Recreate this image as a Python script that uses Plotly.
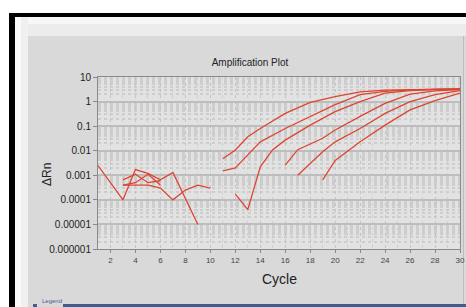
import plotly.graph_objects as go

cycles = list(range(1, 31))

# Early noisy traces (cycles 1-10)
noise_a = {1: 0.0025, 3: 0.0001, 4: 0.0017, 5: 0.0012, 6: 0.00065, 7: 0.0013, 9: 0.00001}
noise_b = {3: 0.00065, 4: 0.0011, 5: 0.0005, 6: 0.0006}
noise_c = {3: 0.0004, 5: 0.0004, 6: 0.0003, 7: 0.0001, 8: 0.00025, 9: 0.0004, 10: 0.0003}
noise_d = {3: 0.0004, 4: 0.0005, 5: 0.0011, 6: 0.0004}

# Amplification curves
amp_1 = {11: 0.0047, 12: 0.0107, 13: 0.037, 14: 0.08, 16: 0.33, 18: 0.93, 20: 1.6, 22: 2.5, 24: 2.9, 26: 3.1, 28: 3.2, 30: 3.3}
amp_2 = {11: 0.0015, 12: 0.002, 13: 0.0068, 14: 0.023, 16: 0.08, 18: 0.25, 20: 0.75, 22: 1.9, 24: 2.6, 26: 3.0, 28: 3.2, 30: 3.3}
amp_3 = {12: 0.00017, 13: 0.00004, 14: 0.0022, 15: 0.011, 16: 0.027, 18: 0.11, 20: 0.39, 22: 1.0, 24: 2.2, 26: 2.8, 28: 3.1, 30: 3.2}
amp_4 = {16: 0.0026, 17: 0.011, 19: 0.032, 20: 0.07, 22: 0.25, 24: 0.85, 26: 2.0, 28: 2.7, 30: 3.1}
amp_5 = {17: 0.001, 18: 0.003, 19: 0.009, 20: 0.023, 22: 0.08, 24: 0.33, 26: 1.0, 28: 1.9, 30: 2.8}
amp_6 = {19: 0.00065, 20: 0.004, 22: 0.023, 24: 0.11, 26: 0.46, 28: 1.1, 30: 2.2}

series = [noise_a, noise_b, noise_c, noise_d, amp_1, amp_2, amp_3, amp_4, amp_5, amp_6]

y_tickvals = [10, 1, 0.1, 0.01, 0.001, 0.0001, 0.00001, 0.000001]
y_ticktext = ["10", "1", "0.1", "0.01", "0.001", "0.0001", "0.00001", "0.000001"]
x_tickvals = list(range(2, 31, 2))

W, H = 466, 307
L, R, T, B = 98, 6, 77, 58
pw, ph = W - L - R, H - T - B

def px(x):
    return (x - L) / pw

def py(y):
    return (H - B - y) / ph

fig = go.Figure()
for s in series:
    xs = sorted(s.keys())
    fig.add_trace(go.Scatter(x=xs, y=[s[k] for k in xs], mode="lines",
                             line=dict(color="#dc4530", width=1.3),
                             showlegend=False, hoverinfo="skip"))

font = "Liberation Sans Narrow, Liberation Sans, Arial, sans-serif"

shapes = []
def rect(x0, y0, x1, y1, color):
    shapes.append(dict(type="rect", xref="paper", yref="paper",
                       x0=px(x0), x1=px(x1), y0=py(y1), y1=py(y0),
                       fillcolor=color, line=dict(width=0), layer="below"))

# outer white
rect(0, 0, W, 13, "#ffffff")
rect(0, 0, 9, H, "#ffffff")
# black frame
rect(9, 13, W, 17, "#000000")
rect(9, 13, 15, H, "#000000")
# light inner frame
rect(15, 17, W, 24, "#f7f7f7")
rect(15, 24, W, 36, "#ececec")
rect(15, 17, 28, H, "#f0f0f0")
rect(15, 17, 21, H, "#fafafa")
# right edge line
rect(463, 36, 464, H, "#bdbdbd")
# legend bar
rect(63, 304, W, 307, "#3f5f8f")
rect(33, 304, 37, 307, "#3f5f8f")

fig.update_layout(
    width=W, height=H,
    margin=dict(l=L, r=R, t=T, b=B, pad=0, autoexpand=False),
    paper_bgcolor="#d9d9d9",
    plot_bgcolor="#e2e2e2",
    shapes=shapes,
    title=dict(text="Amplification Plot", x=250 / W, xanchor="center",
               y=1 - 62 / H, yanchor="middle",
               font=dict(family=font, size=10, color="#222222")),
    xaxis=dict(range=[1, 30], tickvals=x_tickvals, ticks="outside", ticklen=3,
               automargin=False,
               tickcolor="#888888", tickfont=dict(family=font, size=8, color="#444444"),
               showgrid=True, gridcolor="#c4c4c4", griddash="dot", gridwidth=1,
               minor=dict(dtick=1, showgrid=True, gridcolor="#cfcfcf", griddash="dot"),
               showline=True, linecolor="#8a8a8a", mirror=True, zeroline=False),
    yaxis=dict(type="log", range=[-6, 1], tickvals=y_tickvals, ticktext=y_ticktext,
               automargin=False,
               ticks="outside", ticklen=4, tickcolor="#888888",
               tickfont=dict(family=font, size=10, color="#222222"),
               showgrid=True, gridcolor="#bdbdbd", gridwidth=2,
               minor=dict(dtick="D1", showgrid=True, gridcolor="#cdcdcd", griddash="dot"),
               showline=True, linecolor="#8a8a8a", mirror=True, zeroline=False),
    annotations=[
        dict(text="Legend", xref="paper", yref="paper", x=px(40), y=py(306),
             xanchor="left", yanchor="bottom", showarrow=False,
             font=dict(family=font, size=6, color="#3f5f8f")),
        dict(text="Cycle", xref="paper", yref="paper", x=px(279), y=py(279),
             xanchor="center", yanchor="middle", showarrow=False,
             font=dict(family=font, size=14, color="#222222")),
        dict(text="ΔRn", xref="paper", yref="paper", x=px(47), y=py(175),
             xanchor="center", yanchor="middle", showarrow=False, textangle=-90,
             font=dict(family=font, size=12, color="#222222")),
    ],
)

fig.write_html("out.html", config={"displayModeBar": False},
               post_script="document.body.style.margin='0';document.body.style.overflow='hidden';")
